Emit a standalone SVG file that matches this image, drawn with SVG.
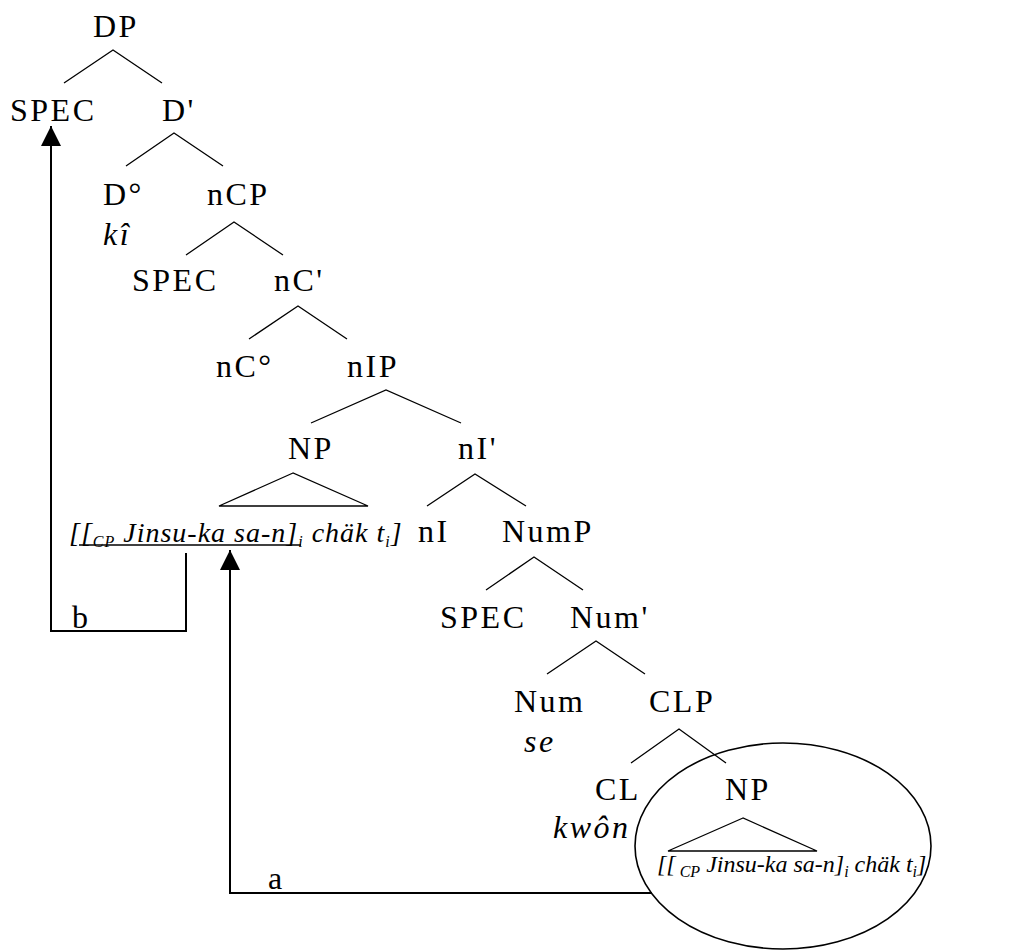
<svg xmlns="http://www.w3.org/2000/svg" width="1012" height="952" viewBox="0 0 1012 952">
<style>
  .lb { font-family: "Liberation Serif", "Times New Roman", serif; font-size: 32px; letter-spacing: 2.5px; fill: #000; }
  .it { font-family: "Liberation Serif", "Times New Roman", serif; font-style: italic; font-size: 32px; letter-spacing: 2.5px; fill: #000; }
  .t1 { font-family: "Liberation Serif", "Times New Roman", serif; font-style: italic; font-size: 28px; letter-spacing: 1px; fill: #000; }
  .t2 { font-family: "Liberation Serif", "Times New Roman", serif; font-style: italic; font-size: 24px; letter-spacing: 0px; fill: #000; }
  .sub { font-size: 16px; }
  .ln { stroke: #000; stroke-width: 1.3; fill: none; }
  .arr { stroke: #000; stroke-width: 2; fill: none; }
</style>
<defs>
  <marker id="ah" markerUnits="userSpaceOnUse" markerWidth="20" markerHeight="20" refX="20" refY="10" orient="auto">
    <path d="M0,0 L20,10 L0,20 z" fill="#000"/>
  </marker>
</defs>
<rect width="1012" height="952" fill="#fff"/>

<g id="connectors">
  <path class="ln" d="M64,83 L113,50 L162,83"/>
  <path class="ln" d="M126,166 L174,133 L223,166"/>
  <path class="ln" d="M186,255 L234,222 L283,255"/>
  <path class="ln" d="M249,339 L298,306 L347,339"/>
  <path class="ln" d="M311,423 L386,390 L461,423"/>
  <path class="ln" d="M427,506 L475,474 L526,506"/>
  <path class="ln" d="M486,590 L534,557 L583,590"/>
  <path class="ln" d="M547,674 L596,641 L645,674"/>
  <path class="ln" d="M631,763 L679,729 L726,763"/>
  <polygon class="ln" points="293,473 219,506 368,506"/>
  <polygon class="ln" points="743,818 668,851 817,851"/>
  <line class="ln" x1="79" y1="545" x2="301" y2="545" stroke-width="1.8"/>
  <path class="arr" d="M186,553 L186,631 L51,631 L51,126" marker-end="url(#ah)"/>
  <path class="arr" d="M652,893 L230,893 L230,550" marker-end="url(#ah)"/>
  <text class="lb" x="72" y="628">b</text>
  <text class="lb" x="268" y="889">a</text>
</g>

<g id="ellipse">
  <ellipse cx="783" cy="846" rx="148" ry="103" fill="none" stroke="#000" stroke-width="1.6"/>
</g>

<g id="n-DP"><text class="lb" x="93" y="37">DP</text></g>
<g id="n-SPEC1"><text class="lb" x="10" y="121">SPEC</text></g>
<g id="n-Dbar"><text class="lb" x="162" y="121">D'</text></g>
<g id="n-D0"><text class="lb" x="103" y="205">D°</text><text class="it" x="103" y="245">kî</text></g>
<g id="n-nCP"><text class="lb" x="207" y="205">nCP</text></g>
<g id="n-SPEC2"><text class="lb" x="132" y="291">SPEC</text></g>
<g id="n-nCbar"><text class="lb" x="274" y="291">nC'</text></g>
<g id="n-nC0"><text class="lb" x="216" y="377">nC°</text></g>
<g id="n-nIP"><text class="lb" x="347" y="377">nIP</text></g>
<g id="n-NP1"><text class="lb" x="288" y="459">NP</text>
  <text class="t1" x="69" y="542">[[<tspan class="sub" dy="5">CP</tspan><tspan dy="-5"> Jinsu-ka sa-n]</tspan><tspan class="sub" dy="5">i</tspan><tspan dy="-5"> chäk t</tspan><tspan class="sub" dy="5">i</tspan><tspan dy="-5">]</tspan></text>
</g>
<g id="n-nIbar"><text class="lb" x="458" y="459">nI'</text></g>
<g id="n-nI"><text class="lb" x="418" y="542">nI</text></g>
<g id="n-NumP"><text class="lb" x="502" y="542">NumP</text></g>
<g id="n-SPEC3"><text class="lb" x="440" y="628">SPEC</text></g>
<g id="n-Numbar"><text class="lb" x="570" y="628">Num'</text></g>
<g id="n-Num"><text class="lb" x="514" y="712">Num</text><text class="it" x="524" y="752">se</text></g>
<g id="n-CLP"><text class="lb" x="649" y="712">CLP</text></g>
<g id="n-CL"><text class="lb" x="595" y="800">CL</text><text class="it" x="553" y="838">kwôn</text></g>
<g id="n-NP2"><text class="lb" x="725" y="800">NP</text>
  <text class="t2" x="657" y="872">[[<tspan class="sub" dy="5"> CP</tspan><tspan dy="-5"> Jinsu-ka sa-n]</tspan><tspan class="sub" dy="5">i</tspan><tspan dy="-5"> chäk t</tspan><tspan class="sub" dy="5">i</tspan><tspan dy="-5">]</tspan></text>
</g>
</svg>
